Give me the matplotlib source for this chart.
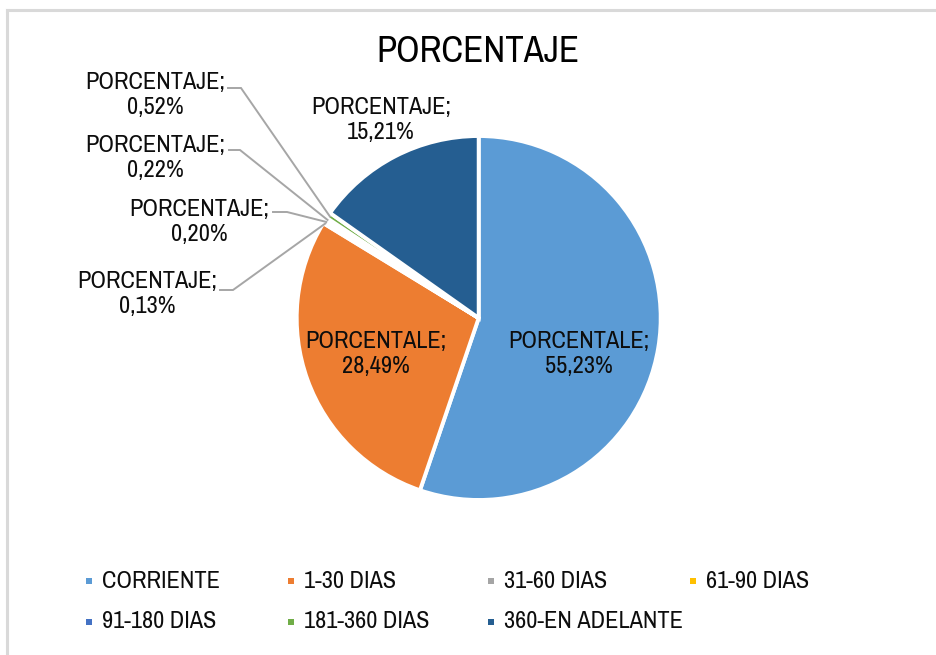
import matplotlib

matplotlib.use("Agg")

import matplotlib.pyplot as plt
from matplotlib.patches import Rectangle
import numpy as np

categories = ["CORRIENTE", "1-30 DIAS", "31-60 DIAS", "61-90 DIAS",
              "91-180 DIAS", "181-360 DIAS", "360-EN ADELANTE"]
percentages = [55.23, 28.49, 0.13, 0.20, 0.22, 0.52, 15.21]
label_names = ["PORCENTALE", "PORCENTALE", "PORCENTAJE", "PORCENTAJE",
               "PORCENTAJE", "PORCENTAJE", "PORCENTAJE"]
colors = ["#5B9BD5", "#ED7D31", "#A5A5A5", "#FFC000",
          "#4472C4", "#70AD47", "#255E91"]

W, H = 937, 655
plt.rcParams["font.family"] = ["Archivo Narrow", "Liberation Sans", "DejaVu Sans"]

fig = plt.figure(figsize=(W / 100, H / 100), dpi=100)
ax = fig.add_axes([0, 0, 1, 1])
ax.axis("off")


def py(y):
    # pixel row (from top) to axis y
    return H - y


cx, cy, R = 478.7, 318, 182
wedges, _ = ax.pie(percentages, colors=colors, startangle=90, counterclock=False,
                   center=(cx, py(cy)), radius=R,
                   wedgeprops=dict(edgecolor="white", linewidth=2.8))
ax.set_xlim(0, W)
ax.set_ylim(0, H)
ax.set_aspect("equal")


def fmt(v):
    return f"{v:.2f}".replace(".", ",") + "%"


# label centres (pixels) for each slice
label_pos = [(579, 354), (376, 354), (147, 294), (199, 222), (155, 158), (155, 95), (381, 120)]
# leader line: start x, bend x, y (pixels)
leaders = {2: (220, 233, 290), 3: (273, 287, 212), 4: (229, 240, 150), 5: (228, 241, 88)}

for i, (v, name) in enumerate(zip(percentages, label_names)):
    lx, ly = label_pos[i]
    ax.text(lx, py(ly), f"{name};\n{fmt(v)}", ha="center", va="center",
            multialignment="center", fontsize=17.5, color="#0d0d0d", linespacing=1.25)
    if i in leaders:
        x0, x1, yy = leaders[i]
        w = wedges[i]
        ang = np.deg2rad((w.theta1 + w.theta2) / 2)
        ex = cx + R * 0.99 * np.cos(ang)
        ey = py(cy) + R * 0.99 * np.sin(ang)
        ax.plot([x0, x1, ex], [py(yy), py(yy), ey], color="#A6A6A6", lw=1.4,
                solid_joinstyle="miter")

ax.text(478, py(51), "PORCENTAJE", ha="center", va="center", fontsize=26.5, color="black")

# legend drawn in two rows like the original
col_x = [89, 291, 491, 693]
row_y = [581, 622]
for i, (cat, col) in enumerate(zip(categories, colors)):
    r, c = divmod(i, 4)
    mx, my = col_x[c], row_y[r]
    ax.add_patch(Rectangle((mx - 3, py(my) - 3), 6, 6, facecolor=col, edgecolor="none"))
    ax.text(mx + 13, py(my), cat, ha="left", va="center", fontsize=17.5, color="#0d0d0d")

# light frame at top and left edge
ax.plot([7.5, W], [py(9.5), py(9.5)], color="#D9D9D9", lw=2.2)
ax.plot([7.5, 7.5], [py(9.5), 0], color="#D9D9D9", lw=2.2)

fig.savefig("out.png", dpi=100)
plt.close(fig)
